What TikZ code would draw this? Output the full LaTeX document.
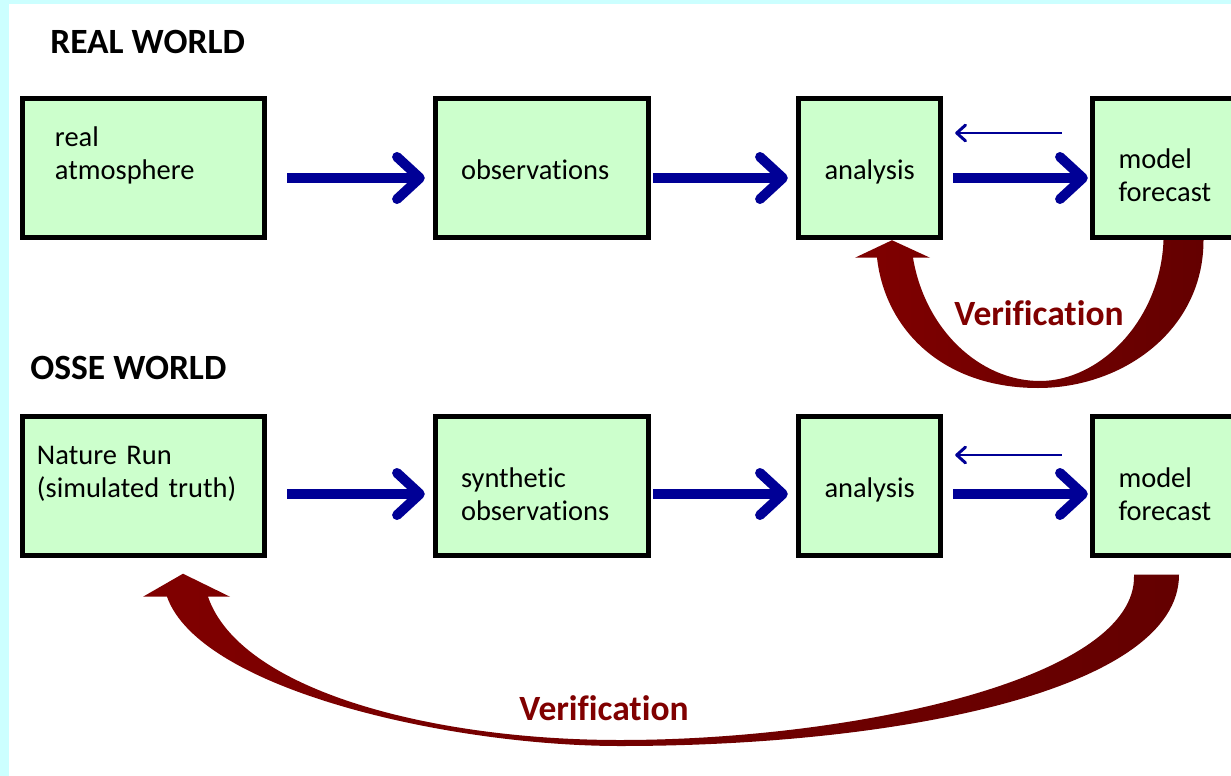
\documentclass[tikz,border=0pt]{standalone}
\usepackage{fontspec}
\setmainfont{Carlito}[Ligatures=NoCommon]
\usetikzlibrary{arrows.meta,calc,shadows}
\definecolor{bgcyan}{HTML}{CCFFFF}
\definecolor{boxgreen}{HTML}{CCFFCC}
\definecolor{flowblue}{HTML}{000096}
\definecolor{verired}{HTML}{800000}
\tikzset{
  box/.style={draw, line width=3.1pt, fill=boxgreen, minimum height=2.78cm, align=left,
    font=\fontsize{16.2}{18.8}\selectfont,
    drop shadow={shadow xshift=0.8pt, shadow yshift=-1pt, opacity=0.35}},
  heading/.style={anchor=west, inner sep=0pt, font=\bfseries\fontsize{20.2}{24}\selectfont},
  flow/.style={draw=flowblue, line width=5.6pt, -{Straight Barb[round, length=13pt, width=24pt]}},
  back/.style={draw=flowblue, line width=1.7pt, -{Straight Barb[round, length=5pt, width=9pt]}},
  verif/.style={left color=verired, right color=verired!78!black},
  verilabel/.style={text=verired, inner sep=0pt, font=\bfseries\fontsize{20.2}{24}\selectfont}
}
\begin{document}
\begin{tikzpicture}[x=0.2mm,y=-0.2mm]
			%%%%% BACKGROUND %%%%%
			\useasboundingbox (0,0) rectangle (1231,776);
			\clip (0,0) rectangle (1231,776);
			\fill[bgcyan] (0,0) rectangle (1231,776);
			\fill[white] (9,4) rectangle (1231,776);
			
			\node[heading] (realw) at (50,42) {REAL WORLD};
			\node[heading] (ossew) at (30,368) {OSSE WORLD};
			
			%%%%% REAL WORLD %%%%%
			\node[box, minimum width=4.84cm, text width=3.54cm, text height=12pt, text depth=36pt] (atm) at (143.5,168) {real\\atmosphere};
			\node[box, minimum width=4.26cm, text width=3.24cm, text height=14.5pt, text depth=1.5pt] (obs) at (542,168) {observations};
			\node[box, minimum width=2.84cm, text width=1.8cm, text height=14.5pt, text depth=1.5pt] (ana) at (869.5,168) {analysis};
			\node[box, minimum width=2.84cm, text width=1.8cm, text height=12pt, text depth=12pt] (fcst) at (1163.5,168) {model\\forecast};
			
			\draw[flow, shorten <=0.4cm, shorten >=0.16cm] ([yshift=-0.2cm]atm.east) -- ([yshift=-0.2cm]obs.west);
			\draw[flow, shorten <=0.04cm, shorten >=0.16cm] ([yshift=-0.2cm]obs.east) -- ([yshift=-0.2cm]ana.west);
			\draw[flow, shorten <=0.2cm, shorten >=0.04cm] ([yshift=-0.2cm]ana.east) -- ([yshift=-0.2cm]fcst.west);
			\draw[back, shorten <=0.56cm, shorten >=0.24cm] ([yshift=0.7cm]fcst.west) -- ([yshift=0.7cm]ana.east);
			
			\shade[verif] ($(fcst.south)+(40,0)$) .. controls +(0,90) and +(85,0) .. (1038,388)
				.. controls +(-95,0) and +(8,72) .. ($(ana.south)+(7.5,17.5)$)
				-- ($(ana.south)+(-14.5,17.5)$) -- ($(ana.south)+(22.5,0)$) -- ($(ana.south)+(60.5,17.5)$)
				-- ($(ana.south)+(43.5,17.5)$)
				.. controls +(12,72) and +(-60,0) .. (1040,381)
				.. controls +(60,0) and +(-3,80) .. (fcst.south) -- cycle;
			\node[verilabel] (verif1) at (1039,313) {Verification};
			
			%%%%% OSSE WORLD %%%%%
			\node[box, minimum width=4.84cm, text width=4.26cm, text height=12pt, text depth=36pt] (nature) at (143.5,486) {Nature Run\\(simulated truth)};
			\node[box, minimum width=4.26cm, text width=3.24cm, text height=13pt, text depth=11pt] (synobs) at (542,486) {synthetic\\observations};
			\node[box, minimum width=2.84cm, text width=1.8cm, text height=14.5pt, text depth=1.5pt] (ana2) at (869.5,486) {analysis};
			\node[box, minimum width=2.84cm, text width=1.8cm, text height=13pt, text depth=11pt] (fcst2) at (1163.5,486) {model\\forecast};
			
			\draw[flow, shorten <=0.4cm, shorten >=0.16cm] ([yshift=-0.16cm]nature.east) -- ([yshift=-0.16cm]synobs.west);
			\draw[flow, shorten <=0.04cm, shorten >=0.16cm] ([yshift=-0.16cm]synobs.east) -- ([yshift=-0.16cm]ana2.west);
			\draw[flow, shorten <=0.2cm, shorten >=0.04cm] ([yshift=-0.16cm]ana2.east) -- ([yshift=-0.16cm]fcst2.west);
			\draw[back, shorten <=0.56cm, shorten >=0.24cm] ([yshift=0.62cm]fcst2.west) -- ([yshift=0.62cm]ana2.east);
			
			\shade[verif] ($(fcst2.south)+(15.5,16.5)$) .. controls +(0,115) and +(280,0) .. (620,746)
				.. controls +(-170,0) and +(33,93) .. ($(nature.south)+(23.5,38.5)$)
				-- ($(nature.south)+(-0.5,38.5)$) -- ($(nature.south)+(39.5,15.5)$) -- ($(nature.south)+(86.5,38.5)$)
				-- ($(nature.south)+(64.5,38.5)$)
				.. controls +(32,93) and +(-190,0) .. (620,740)
				.. controls +(230,0) and +(4,105) .. ($(fcst2.south)+(-29.5,16.5)$) -- cycle;
			\node[verilabel] (verif2) at (604,708) {Verification};
\end{tikzpicture}
\end{document}
